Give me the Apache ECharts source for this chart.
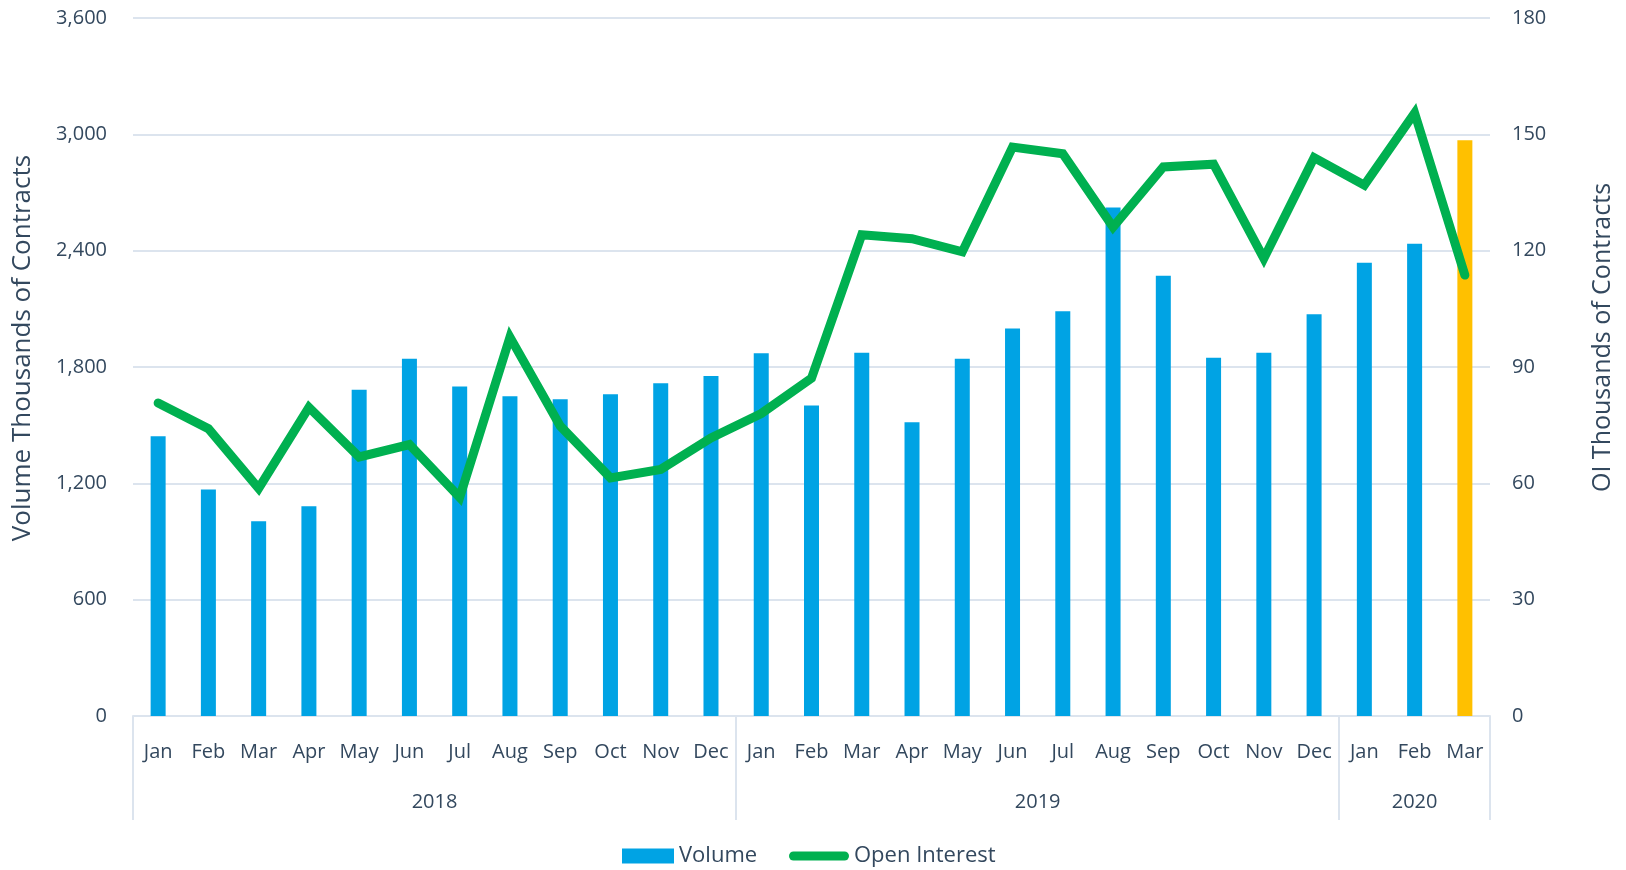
<html>
<head>
    <meta charset='utf-8'/>
    <title>Volume and Open Interest</title>
    <style>
        body {
            margin: 0;
            padding: 0;
            background: #fff;
        }

        #chart {
            width: 1626px;
            height: 870px;
        }
    </style>
</head>
<body>
<div id='chart'></div>
<script type="text/javascript" src="https://cdn.jsdelivr.net/npm/echarts@6/dist/echarts.min.js"></script>
<script type="text/javascript">
    var months = ['Jan', 'Feb', 'Mar', 'Apr', 'May', 'Jun', 'Jul', 'Aug', 'Sep', 'Oct', 'Nov', 'Dec',
        'Jan', 'Feb', 'Mar', 'Apr', 'May', 'Jun', 'Jul', 'Aug', 'Sep', 'Oct', 'Nov', 'Dec',
        'Jan', 'Feb', 'Mar'];
    var years = ['2018', '2019', '2020'];
    var monthsPerYear = [12, 12, 3];
    // volume, thousands of contracts (left axis)
    var volume = [1443, 1168, 1004, 1082, 1683, 1843, 1699, 1649, 1634, 1659, 1716, 1754,
        1871, 1601, 1874, 1515, 1843, 1998, 2087, 2622, 2271, 1848, 1874, 2072,
        2338, 2436, 2969];
    // open interest, thousands of contracts (right axis)
    var openInterest = [80.7, 74.1, 58.7, 79.6, 66.8, 70.0, 56.4, 97.7, 74.8, 61.4, 63.6, 71.7,
        78.0, 87.1, 124.1, 123.1, 119.7, 146.7, 145.0, 126.1, 141.6, 142.3, 118.0, 144.0,
        136.9, 155.5, 113.7];
    var highlightIndex = 26; // latest month drawn in yellow

    var textColor = '#33485E';
    var lineColor = '#DCE4EE';
    var green = '#00B050';
    var font = 'Open Sans';

    // year group boundaries and label centres on a 0..N value axis
    var bounds = [0], centres = [], centreName = {};
    var acc = 0;
    for (var i = 0; i < years.length; i++) {
        centres.push(acc + monthsPerYear[i] / 2);
        centreName[acc + monthsPerYear[i] / 2] = years[i];
        acc += monthsPerYear[i];
        bounds.push(acc);
    }

    var barData = volume.map(function (v, i) {
        return i === highlightIndex ? {value: v, itemStyle: {color: '#FFC000'}} : v;
    });

    var legendText = {fontSize: 22, color: textColor, fontFamily: font};

    var chart = echarts.init(document.getElementById('chart'));
    var option = {
        animation: false,
        textStyle: {fontFamily: font, color: textColor},
        grid: {left: 133, right: 136, top: 18, bottom: 154},
        legend: [{
            left: 617,
            bottom: -2,
            itemWidth: 52,
            itemHeight: 15,
            textStyle: legendText,
            data: [{name: 'Volume', icon: 'rect'}]
        }, {
            left: 784,
            bottom: -2,
            itemWidth: 60,
            itemHeight: 15,
            textStyle: legendText,
            data: [{
                name: 'Open Interest',
                icon: 'path://M4.5,0 L55.5,0 A4.5,4.5 0 0 1 55.5,9 L4.5,9 A4.5,4.5 0 0 1 4.5,0 Z'
            }]
        }],
        xAxis: [{
            type: 'category',
            data: months,
            axisLine: {show: true, lineStyle: {color: lineColor, width: 2}},
            axisTick: {show: false},
            axisLabel: {interval: 0, margin: 26, fontSize: 20, color: textColor}
        }, {
            type: 'value',
            min: 0,
            max: acc,
            position: 'bottom',
            axisLine: {show: false},
            splitLine: {show: false},
            axisTick: {show: true, customValues: bounds, length: 104, lineStyle: {color: lineColor, width: 2}},
            axisLabel: {
                customValues: centres,
                margin: 76,
                fontSize: 20,
                color: textColor,
                formatter: function (v) {
                    return centreName[v] || '';
                }
            }
        }],
        yAxis: [{
            type: 'value',
            min: 0,
            max: 3600,
            interval: 600,
            name: 'Volume Thousands of Contracts',
            nameLocation: 'middle',
            nameGap: 97,
            nameTextStyle: {fontSize: 26, color: textColor, padding: [0, 0, 0, 38]},
            axisLine: {show: false},
            axisTick: {show: false},
            splitLine: {lineStyle: {color: lineColor, width: 2}},
            axisLabel: {
                margin: 26, fontSize: 20, color: textColor,
                formatter: function (v) {
                    return v.toLocaleString('en-US');
                }
            }
        }, {
            type: 'value',
            min: 0,
            max: 180,
            interval: 30,
            name: 'OI Thousands of Contracts',
            nameLocation: 'middle',
            nameGap: 100,
            nameTextStyle: {fontSize: 25, color: textColor, padding: [0, 0, 0, 59]},
            axisLine: {show: false},
            axisTick: {show: false},
            splitLine: {show: false},
            axisLabel: {margin: 22, fontSize: 20, color: textColor}
        }],
        series: [{
            name: 'Volume',
            type: 'bar',
            yAxisIndex: 0,
            barWidth: 15,
            itemStyle: {color: '#00A3E4'},
            data: barData
        }, {
            name: 'Open Interest',
            type: 'line',
            yAxisIndex: 1,
            symbol: 'none',
            lineStyle: {color: green, width: 9, cap: 'round', join: 'miter'},
            itemStyle: {color: green},
            data: openInterest
        }]
    };
    chart.setOption(option);
</script>
</body>
</html>
